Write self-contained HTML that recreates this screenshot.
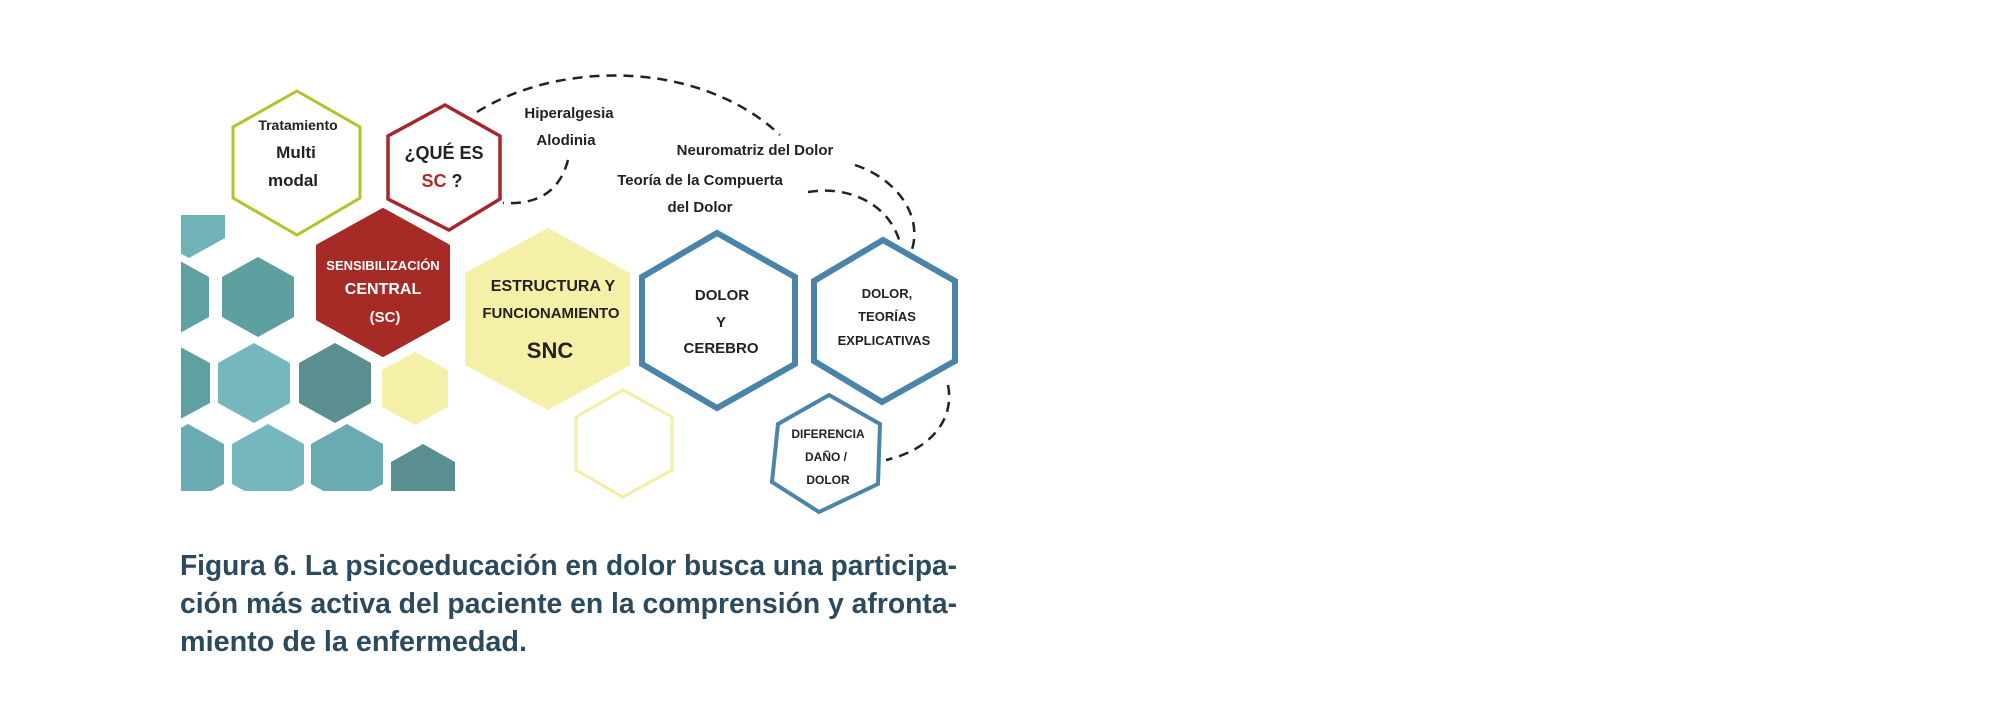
<!DOCTYPE html>
<html><head><meta charset="utf-8"><style>
html,body{margin:0;padding:0;background:#fff;}
svg{display:block;}
text{font-family:"Liberation Sans",sans-serif;font-weight:bold;text-anchor:middle;fill:#222;}
.cap{font-family:"Liberation Sans",sans-serif;font-weight:bold;fill:#2b4a5e;text-anchor:start;font-size:29px;}
</style></head><body>
<svg width="2000" height="723" viewBox="0 0 2000 723" xmlns="http://www.w3.org/2000/svg">
<defs><clipPath id="c"><rect x="181" y="215" width="280" height="276"/></clipPath></defs>
<g clip-path="url(#c)">
 <polygon points="189,178 225,198 225,238 189,258 153,238 153,198" fill="#6fb2b8"/>
 <polygon points="173,257 209,277 209,317 173,337 137,317 137,277" fill="#5fa1a3"/>
 <polygon points="258,257 294,277 294,317 258,337 222,317 222,277" fill="#5e9fa0"/>
 <polygon points="173,343 210,363 210,403 173,423 136,403 136,363" fill="#5fa1a3"/>
 <polygon points="254,343 290,363 290,403 254,423 218,403 218,363" fill="#74b8be"/>
 <polygon points="335,343 371,363 371,403 335,423 299,403 299,363" fill="#5a8f8f"/>
 <polygon points="188,424 224,444 224,484 188,504 152,484 152,444" fill="#6aabb1"/>
 <polygon points="268,424 304,444 304,484 268,504 232,484 232,444" fill="#74b8be"/>
 <polygon points="347,424 383,444 383,484 347,504 311,484 311,444" fill="#6aabb1"/>
 <polygon points="423,444 455,462 455,500 423,518 391,500 391,462" fill="#5a8f8f"/>
</g>
<!-- yellow -->
<polygon points="415,352 448,370 448,407 415,425 382,407 382,370" fill="#f5f0a8"/>
<polygon points="623,390 672,417 672,470 623,497 576,470 576,417" fill="none" stroke="#f2eea2" stroke-width="3"/>
<polygon points="548,228 630,273 630,365 548,410 465,365 465,273" fill="#f5f0a8"/>
<!-- green -->
<polygon points="297,91 360,127 360,198 297,235 233,198 233,127" fill="none" stroke="#b5c22a" stroke-width="3"/>
<!-- red outline -->
<polygon points="445,105 500,136 500,199 449,230 388,199 388,136" fill="none" stroke="#a8262a" stroke-width="3.5"/>
<!-- red filled -->
<polygon points="383,210 448,246 448,319 383,355 318,319 318,246" fill="#a62a26" stroke="#a62a26" stroke-width="4" stroke-linejoin="round"/>
<!-- blue -->
<polygon points="717,233 795,277 795,364 717,408 642,364 642,277" fill="none" stroke="#4a84aa" stroke-width="6"/>
<polygon points="883,240 955,281 955,361 882,402 814,361 814,281" fill="none" stroke="#4a84aa" stroke-width="6"/>
<polygon points="829,395 880,424 878,484 819,512 772,482 778,424" fill="none" stroke="#4a84aa" stroke-width="4"/>
<!-- dashed -->
<g fill="none" stroke="#222" stroke-width="2.5" stroke-dasharray="10 7">
 <path d="M477,112 C560,60 700,60 780,135"/>
 <path d="M568,160 C560,190 540,205 503,203"/>
 <path d="M855,165 C900,180 925,220 910,255"/>
 <path d="M808,192 C850,185 890,205 900,243"/>
 <path d="M948,385 C955,420 930,450 886,460"/>
</g>
<!-- labels -->
<text x="298" y="130" font-size="14">Tratamiento</text>
<text x="296" y="158" font-size="17">Multi</text>
<text x="293" y="186" font-size="17">modal</text>
<text x="444" y="159" font-size="18">¿QUÉ ES</text>
<text x="442" y="187" font-size="18"><tspan fill="#b02828">SC</tspan> ?</text>
<text x="383" y="270" font-size="13" fill="#fff" style="fill:#fff">SENSIBILIZACIÓN</text>
<text x="383" y="294" font-size="16" style="fill:#fff">CENTRAL</text>
<text x="385" y="322" font-size="15" style="fill:#fff">(SC)</text>
<text x="553" y="291" font-size="16">ESTRUCTURA Y</text>
<text x="551" y="318" font-size="15">FUNCIONAMIENTO</text>
<text x="550" y="358" font-size="22">SNC</text>
<text x="722" y="300" font-size="15">DOLOR</text>
<text x="721" y="327" font-size="15">Y</text>
<text x="721" y="353" font-size="15">CEREBRO</text>
<text x="887" y="298" font-size="13">DOLOR,</text>
<text x="887" y="321" font-size="13">TEORÍAS</text>
<text x="884" y="345" font-size="13">EXPLICATIVAS</text>
<text x="828" y="438" font-size="12">DIFERENCIA</text>
<text x="826" y="461" font-size="12">DAÑO /</text>
<text x="828" y="484" font-size="12">DOLOR</text>
<text x="569" y="118" font-size="15">Hiperalgesia</text>
<text x="566" y="145" font-size="15">Alodinia</text>
<text x="755" y="155" font-size="15">Neuromatriz del Dolor</text>
<text x="700" y="185" font-size="15">Teoría de la Compuerta</text>
<text x="700" y="212" font-size="15">del Dolor</text>
<!-- caption -->
<text class="cap" x="180" y="575" textLength="777" lengthAdjust="spacingAndGlyphs">Figura 6. La psicoeducación en dolor busca una participa-</text>
<text class="cap" x="180" y="613" textLength="777" lengthAdjust="spacingAndGlyphs">ción más activa del paciente en la comprensión y afronta-</text>
<text class="cap" x="180" y="651" textLength="347" lengthAdjust="spacingAndGlyphs">miento de la enfermedad.</text>
</svg>
</body></html>
